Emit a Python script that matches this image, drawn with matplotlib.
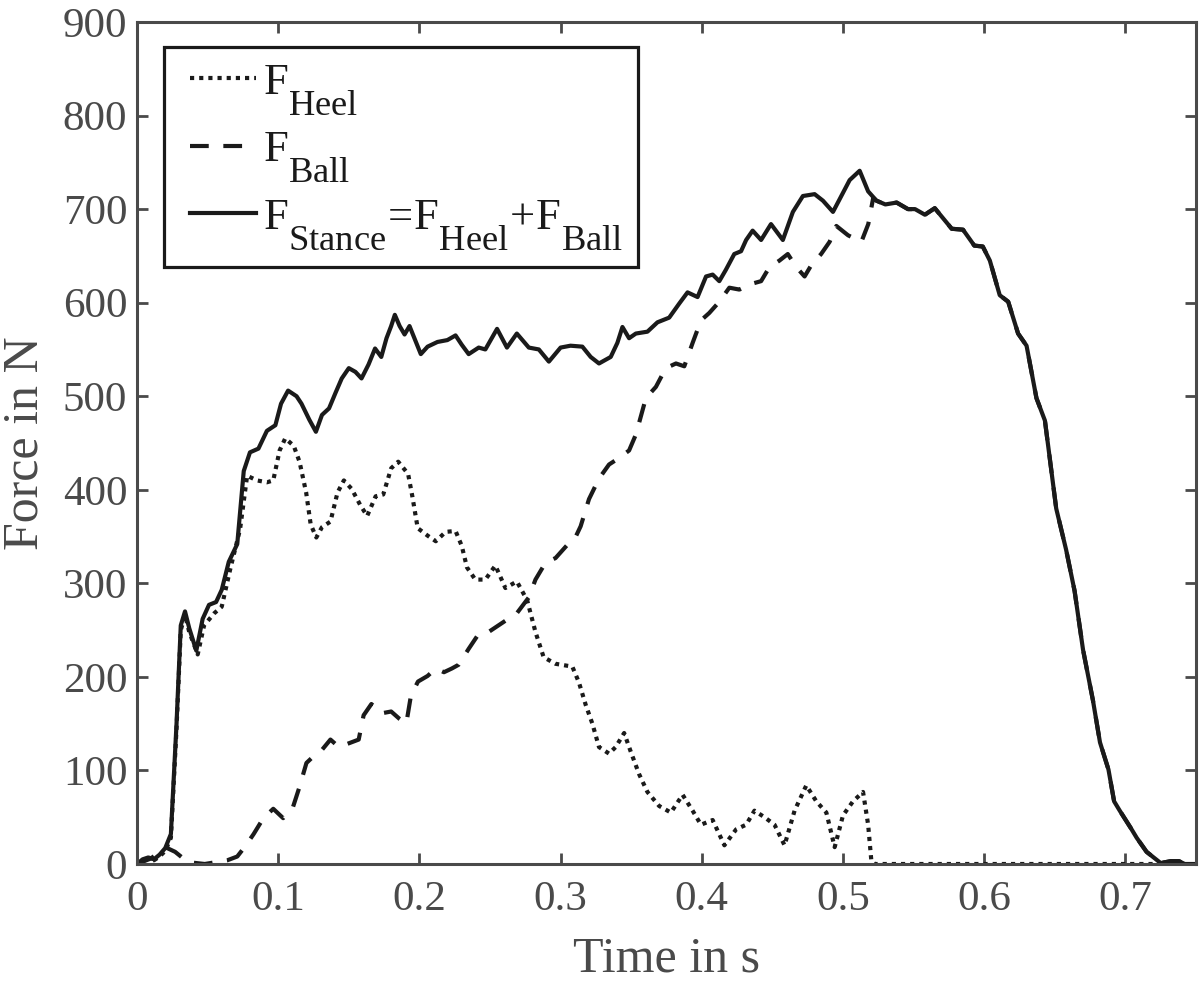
import matplotlib
matplotlib.use("Agg")
import matplotlib.pyplot as plt
import matplotlib._mathtext as _mt
from matplotlib.legend_handler import HandlerLine2D

# ---------------- data ----------------
t_stance = [0.000, 0.004, 0.008, 0.012, 0.016, 0.020, 0.024, 0.028, 0.031, 0.034,
            0.037, 0.042, 0.0465, 0.051, 0.056, 0.060, 0.065, 0.071, 0.0756, 0.080,
            0.086, 0.092, 0.098, 0.102, 0.107, 0.113, 0.1165, 0.122, 0.1267, 0.131,
            0.136, 0.1407, 0.145, 0.150, 0.1547, 0.159, 0.164, 0.1686, 0.173, 0.1767,
            0.180, 0.1826, 0.186, 0.1895, 0.193, 0.1965, 0.201, 0.2058, 0.2128, 0.2198,
            0.2256, 0.230, 0.2349, 0.242, 0.2467, 0.255, 0.262, 0.269, 0.2775, 0.2846,
            0.2917, 0.300, 0.307, 0.3154, 0.3213, 0.3272, 0.3355, 0.3402, 0.3438, 0.3485,
            0.3533, 0.3615, 0.3686, 0.3769, 0.384, 0.3899, 0.397, 0.403, 0.4077, 0.4124,
            0.417, 0.423, 0.4278, 0.4314, 0.436, 0.442, 0.449, 0.4574, 0.4645, 0.4716,
            0.4799, 0.4858, 0.4929, 0.4988, 0.5047, 0.5118, 0.5178, 0.5237, 0.530, 0.538,
            0.546, 0.551, 0.558, 0.565, 0.577, 0.585, 0.593, 0.599, 0.604, 0.611,
            0.617, 0.624, 0.630, 0.637, 0.643, 0.651, 0.658, 0.664, 0.670, 0.677,
            0.682, 0.688, 0.692, 0.696, 0.704, 0.708, 0.715, 0.725, 0.732, 0.738,
            0.742, 0.750]
f_stance = [0, 5, 7, 5, 10, 17, 32, 150, 255, 270,
            252, 228, 262, 277, 280, 293, 323, 342, 420, 440,
            444, 463, 469, 492, 506, 500, 492, 475, 462, 480,
            487, 504, 519, 530, 526, 519, 534, 551, 542, 562,
            575, 587, 575, 566, 575, 562, 545, 553, 558, 560,
            565, 555, 545, 552, 550, 572, 552, 567, 552, 550,
            537, 552, 554, 553, 542, 535, 542, 557, 574, 562,
            567, 569, 579, 584, 599, 611, 606, 628, 630, 623,
            635, 652, 655, 667, 677, 667, 684, 667, 697, 714,
            716, 709, 697, 714, 731, 741, 719, 709, 705, 707,
            700, 700, 694, 701, 679, 678, 661, 660, 645, 608,
            601, 567, 554, 498, 474, 380, 336, 292, 229, 175,
            130, 101, 67, 57, 38, 28, 13, 1, 3, 3,
            0, 0]

t_heel = [0.000, 0.004, 0.008, 0.012, 0.016, 0.020, 0.024, 0.028, 0.031, 0.034,
          0.037, 0.043, 0.0475, 0.0547, 0.060, 0.066, 0.073, 0.078, 0.085, 0.092,
          0.0965, 0.101, 0.105, 0.111, 0.1151, 0.1198, 0.123, 0.127, 0.131, 0.137,
          0.142, 0.1465, 0.152, 0.158, 0.163, 0.169, 0.1744, 0.180, 0.185, 0.192,
          0.195, 0.1988, 0.2058, 0.2116, 0.2186, 0.2256, 0.230, 0.2337, 0.2396, 0.2467,
          0.2538, 0.2609, 0.269, 0.2763, 0.2822, 0.288, 0.2964, 0.3083, 0.313, 0.3178,
          0.3225, 0.3272, 0.3343, 0.339, 0.345, 0.3497, 0.3556, 0.3615, 0.3698, 0.3781,
          0.3864, 0.3935, 0.3994, 0.4077, 0.416, 0.4243, 0.4314, 0.4373, 0.4444, 0.4515,
          0.4586, 0.4657, 0.474, 0.4811, 0.4882, 0.4941, 0.500, 0.5071, 0.5142, 0.5178,
          0.5201, 0.5225, 0.735]
f_heel = [0, 4, 6, 4, 8, 14, 28, 145, 250, 266,
          248, 224, 255, 268, 275, 315, 358, 415, 410, 408,
          410, 442, 455, 447, 430, 397, 363, 349, 360, 366,
          397, 410, 401, 384, 372, 393, 395, 423, 430, 417,
          393, 359, 351, 345, 355, 356, 340, 317, 304, 304,
          319, 295, 302, 282, 248, 221, 214, 211, 194, 170,
          150, 125, 118, 125, 140, 120, 96, 77, 62, 55,
          74, 57, 42, 47, 20, 37, 42, 57, 50, 42,
          20, 57, 84, 67, 55, 18, 52, 67, 77, 42,
          3, 0, 0]

t_ball = [0.000, 0.010, 0.020, 0.027, 0.036, 0.048, 0.064, 0.071, 0.0767, 0.0826,
          0.0895, 0.0965, 0.1035, 0.1105, 0.115, 0.120, 0.1256, 0.131, 0.137, 0.143,
          0.150, 0.157, 0.1605, 0.166, 0.173, 0.180, 0.186, 0.1907, 0.194, 0.199,
          0.2058, 0.2116, 0.2174, 0.223, 0.2278, 0.2349, 0.242, 0.249, 0.2609, 0.269,
          0.2775, 0.2822, 0.2893, 0.2964, 0.3047, 0.3095, 0.3142, 0.3201, 0.3272, 0.3343,
          0.3414, 0.3485, 0.3533, 0.3604, 0.3675, 0.3745, 0.3817, 0.3876, 0.3935, 0.3994,
          0.4053, 0.4124, 0.4195, 0.4266, 0.4349, 0.442, 0.4479, 0.455, 0.4609, 0.4669,
          0.4728, 0.4775, 0.4845, 0.4905, 0.4953, 0.5036, 0.513, 0.5179, 0.5214, 0.5237]
f_ball = [0, 6, 18, 13, 2, 0, 4, 8, 19, 32,
          49, 59, 49, 61, 82, 108, 116, 122, 133, 125,
          129, 133, 159, 171, 161, 163, 155, 150, 180, 195,
          201, 209, 205, 209, 213, 230, 246, 248, 260, 268,
          285, 304, 322, 327, 341, 346, 361, 390, 412, 427,
          434, 442, 459, 498, 510, 530, 535, 532, 557, 581,
          589, 601, 616, 614, 620, 623, 638, 645, 652, 638,
          628, 640, 652, 665, 682, 672, 665, 684, 712, 709]

# after heel-off the ball force equals the stance force
t_ball_full = t_ball + [t for t in t_stance if t > t_ball[-1]]
f_ball_full = f_ball + [f for t, f in zip(t_stance, f_stance) if t > t_ball[-1]]

x_ticks = [0, 0.1, 0.2, 0.3, 0.4, 0.5, 0.6, 0.7]
x_ticklabels = ["0", "0.1", "0.2", "0.3", "0.4", "0.5", "0.6", "0.7"]
y_ticks = [0, 100, 200, 300, 400, 500, 600, 700, 800, 900]

labels = [r"$\mathrm{F_{Heel}}$",
          r"$\mathrm{F_{Ball}}$",
          r"$\mathrm{F_{Stance}\!=\!F_{Heel}\!+\!F_{Ball}}$"]

# ---------------- style ----------------
_mt.SHRINK_FACTOR = 0.82
try:
    _mt.FontConstantsBase.sub1 = 1.05
except Exception:
    pass
plt.rcParams["font.family"] = ["Liberation Serif", "DejaVu Serif"]
plt.rcParams["mathtext.fontset"] = "custom"
plt.rcParams["mathtext.rm"] = "Liberation Serif"
plt.rcParams["mathtext.it"] = "Liberation Serif:italic"
plt.rcParams["mathtext.bf"] = "Liberation Serif:bold"

GRAY = "#4a4a4a"
LINE = "#1a1a1a"

fig = plt.figure(figsize=(12, 9.86), dpi=100)
ax = fig.add_axes([137 / 1200, 1 - 864 / 986, (1196 - 137) / 1200, (864 - 22) / 986])

lw = 3.0
h_heel, = ax.plot(t_heel, f_heel, color=LINE, lw=lw, linestyle=(0, (1.0, 1.2)),
                  dash_capstyle="butt", label=labels[0])
h_ball, = ax.plot(t_ball_full, f_ball_full, color=LINE, lw=lw, linestyle=(0, (4.5, 3.5)),
                  label=labels[1])
h_stance, = ax.plot(t_stance, f_stance, color=LINE, lw=lw, linestyle="-", label=labels[2])

ax.set_xlim(0, 0.75)
ax.set_ylim(0, 900)
ax.set_xticks(x_ticks)
ax.set_xticklabels(x_ticklabels)
ax.set_yticks(y_ticks)

for s in ax.spines.values():
    s.set_color(GRAY)
    s.set_linewidth(2.2)
ax.tick_params(direction="in", length=8, width=2.0, color=GRAY,
               labelcolor=GRAY, labelsize=31, top=True, right=True)
ax.tick_params(axis="x", pad=12)
ax.tick_params(axis="y", pad=7)

ax.set_xlabel("Time in s", fontsize=36, color=GRAY, labelpad=12)
ax.set_ylabel("Force in N", fontsize=36, color=GRAY, labelpad=10)

hmap = {h: HandlerLine2D(xpad=0.23) for h in (h_heel, h_ball, h_stance)}
leg = ax.legend(handles=[h_heel, h_ball, h_stance], handler_map=hmap,
                loc="upper left", bbox_to_anchor=(0.0255, 0.970), borderaxespad=0,
                fontsize=32, handlelength=1.73, handletextpad=0.14,
                labelspacing=0.3, borderpad=0.35, fancybox=False, framealpha=1)
leg.get_frame().set_edgecolor(LINE)
leg.get_frame().set_linewidth(2.3)
for txt in leg.get_texts():
    txt.set_color(LINE)

fig.savefig("out.png", dpi=100, facecolor="white")
